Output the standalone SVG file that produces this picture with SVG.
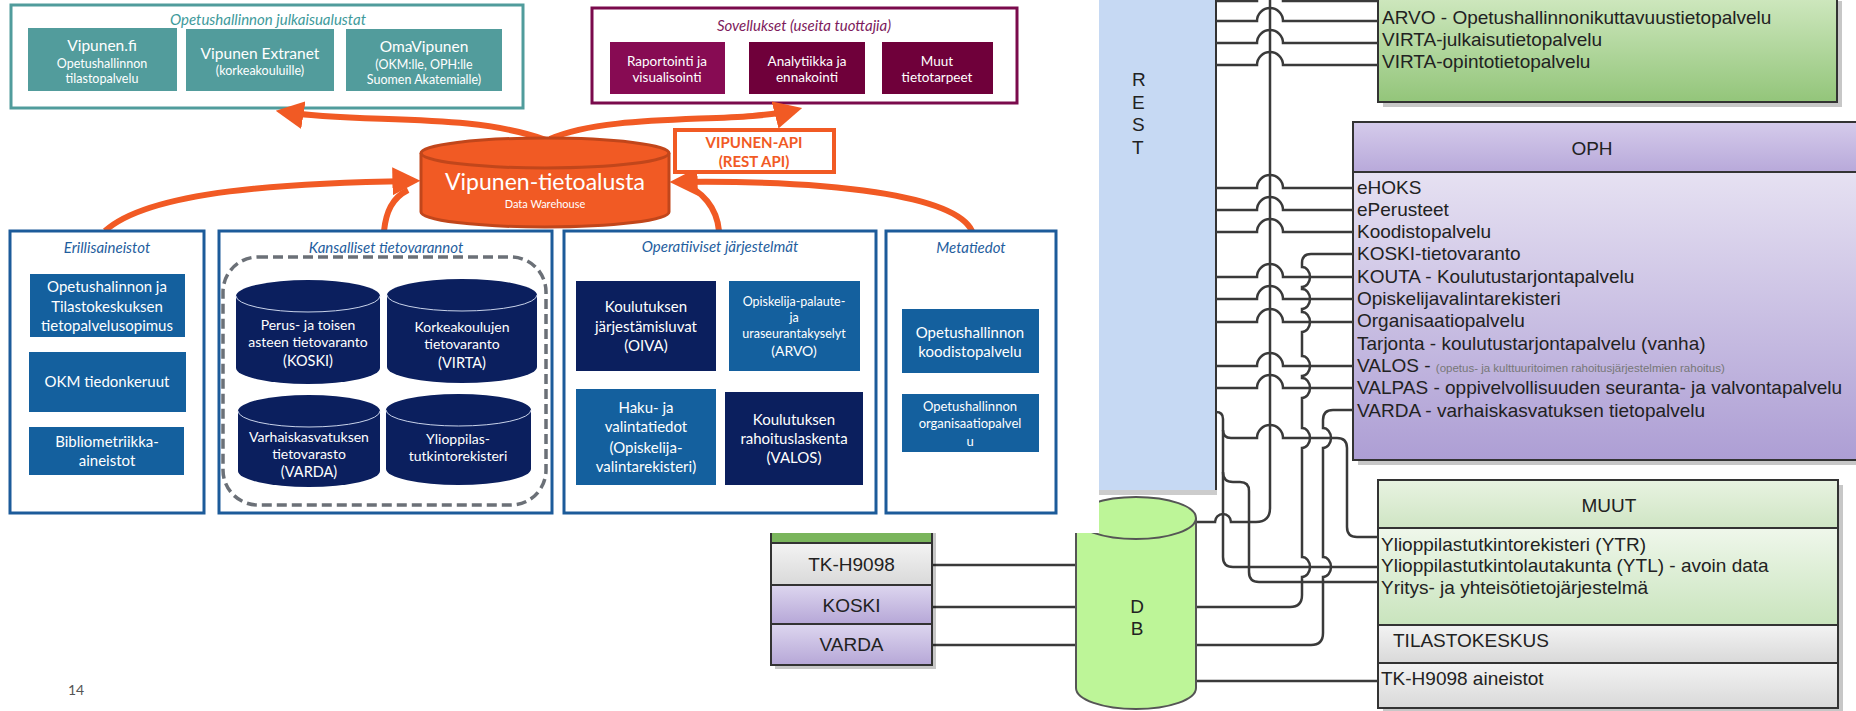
<svg xmlns="http://www.w3.org/2000/svg" width="1856" height="711" viewBox="0 0 1856 711">
<defs>
<style>
.s{font-family:Lato,"Open Sans",sans-serif;fill:#fff;text-anchor:middle}
.ti{font-family:Lato,"Open Sans",sans-serif;font-style:italic;font-size:15px;text-anchor:middle}
.t{font-family:"Liberation Sans",Arial,sans-serif;font-size:19px;fill:#222}
.ln{fill:none;stroke:#3a3a3a;stroke-width:2.5}
.arr{fill:none;stroke:#f15a24;stroke-width:6}
.bx{fill:#fff;stroke:#1c5b9a;stroke-width:3}
.blue{fill:#14609e}
.navy{fill:#0b1f5e}
.shadow{fill:#000;opacity:.22}
.edge{stroke:#333;stroke-width:2}
</style>
<linearGradient id="gGreen" x1="0" y1="0" x2="0" y2="1"><stop offset="0" stop-color="#cfe8bf"/><stop offset="1" stop-color="#93c57a"/></linearGradient>
<linearGradient id="gOphHead" x1="0" y1="0" x2="0" y2="1"><stop offset="0" stop-color="#d5cbeb"/><stop offset="1" stop-color="#b8a9da"/></linearGradient>
<linearGradient id="gOphBody" x1="0" y1="0" x2="0" y2="1"><stop offset="0" stop-color="#e6e1f2"/><stop offset="1" stop-color="#ad9ed4"/></linearGradient>
<linearGradient id="gMuutHead" x1="0" y1="0" x2="0" y2="1"><stop offset="0" stop-color="#e8f3e1"/><stop offset="1" stop-color="#cfe5c4"/></linearGradient>
<linearGradient id="gMuutBody" x1="0" y1="0" x2="0" y2="1"><stop offset="0" stop-color="#eff7eb"/><stop offset="1" stop-color="#c9e4bd"/></linearGradient>
<linearGradient id="gGray" x1="0" y1="0" x2="0" y2="1"><stop offset="0" stop-color="#f3f3f3"/><stop offset="1" stop-color="#d9d9d9"/></linearGradient>
<linearGradient id="gLav" x1="0" y1="0" x2="0" y2="1"><stop offset="0" stop-color="#ddd6ef"/><stop offset="1" stop-color="#b6a7d7"/></linearGradient>
<marker id="ah" markerUnits="userSpaceOnUse" markerWidth="28" markerHeight="28" viewBox="0 0 10 10" refX="7" refY="5" orient="auto"><path d="M0,0 L10,5 L0,10 z" fill="#f15a24"/></marker>
</defs>
<rect x="0" y="0" width="1856" height="711" fill="#fff"/>

<!-- ===== right screenshot part ===== -->
<g id="rest">
<rect x="1099" y="-2" width="116" height="492" fill="#c6d9f3"/>
<rect x="1099" y="490" width="118" height="5" fill="#999" opacity=".5"/>
<line x1="1216" y1="0" x2="1216" y2="490" stroke="#333" stroke-width="2"/>
<text class="t" x="1132" y="86" font-size="18">R</text>
<text class="t" x="1132" y="108.5" font-size="18">E</text>
<text class="t" x="1132" y="131" font-size="18">S</text>
<text class="t" x="1132" y="153.5" font-size="18">T</text>
</g>

<g id="csc">
<rect x="1383" y="1" width="459" height="106" class="shadow"/>
<rect x="1378" y="-4" width="459" height="106" fill="url(#gGreen)" class="edge"/>
<text class="t" x="1382" y="23.5">ARVO - Opetushallinnonikuttavuustietopalvelu</text>
<text class="t" x="1382" y="45.5">VIRTA-julkaisutietopalvelu</text>
<text class="t" x="1382" y="68">VIRTA-opintotietopalvelu</text>
</g>

<g id="oph">
<rect x="1358" y="127" width="520" height="338" class="shadow"/>
<rect x="1353" y="122" width="520" height="50" fill="url(#gOphHead)" class="edge"/>
<rect x="1353" y="172" width="520" height="288" fill="url(#gOphBody)" class="edge"/>
<text class="t" x="1592" y="155" text-anchor="middle">OPH</text>
<text class="t" x="1357" y="193.5">eHOKS</text>
<text class="t" x="1357" y="215.8">ePerusteet</text>
<text class="t" x="1357" y="238.1">Koodistopalvelu</text>
<text class="t" x="1357" y="260.4">KOSKI-tietovaranto</text>
<text class="t" x="1357" y="282.7">KOUTA - Koulutustarjontapalvelu</text>
<text class="t" x="1357" y="305">Opiskelijavalintarekisteri</text>
<text class="t" x="1357" y="327.3">Organisaatiopalvelu</text>
<text class="t" x="1357" y="349.6">Tarjonta - koulutustarjontapalvelu (vanha)</text>
<text class="t" x="1357" y="371.9">VALOS - <tspan font-size="11.5" fill="#777">(opetus- ja kulttuuritoimen rahoitusjärjestelmien rahoitus)</tspan></text>
<text class="t" x="1357" y="394.2">VALPAS - oppivelvollisuuden seuranta- ja valvontapalvelu</text>
<text class="t" x="1357" y="416.5">VARDA - varhaiskasvatuksen tietopalvelu</text>
</g>

<g id="muut">
<rect x="1383" y="485" width="460" height="228" class="shadow"/>
<rect x="1378" y="480" width="460" height="48" fill="url(#gMuutHead)" class="edge"/>
<rect x="1378" y="528" width="460" height="97" fill="url(#gMuutBody)" class="edge"/>
<text class="t" x="1609" y="512" text-anchor="middle">MUUT</text>
<text class="t" x="1381" y="550.5">Ylioppilastutkintorekisteri (YTR)</text>
<text class="t" x="1381" y="571.5">Ylioppilastutkintolautakunta (YTL) - avoin data</text>
<text class="t" x="1381" y="593.5">Yritys- ja yhteisötietojärjestelmä</text>
</g>
<g id="tilastokeskus">
<rect x="1378" y="625" width="460" height="38" fill="url(#gGray)" class="edge"/>
<text class="t" x="1393" y="647">TILASTOKESKUS</text>
</g>
<g id="tk-aineistot">
<rect x="1378" y="663" width="460" height="45" fill="url(#gGray)" class="edge"/>
<text class="t" x="1381" y="685">TK-H9098 aineistot</text>
</g>

<g id="connectors-right">
<path class="ln" d="M1216,1 H1257 a13,13 0 0 1 26,0 H1378"/>
<path class="ln" d="M1216,21 H1257 a13,13 0 0 1 26,0 H1378"/>
<path class="ln" d="M1216,43 H1257 a13,13 0 0 1 26,0 H1378"/>
<path class="ln" d="M1216,65 H1257 a13,13 0 0 1 26,0 H1378"/>
<path class="ln" d="M1216,188 H1257 a13,13 0 0 1 26,0 H1353"/>
<path class="ln" d="M1216,210 H1257 a13,13 0 0 1 26,0 H1353"/>
<path class="ln" d="M1216,232 H1257 a13,13 0 0 1 26,0 H1353"/>
<path class="ln" d="M1216,277 H1257 a13,13 0 0 1 26,0 H1353"/>
<path class="ln" d="M1216,299 H1257 a13,13 0 0 1 26,0 H1353"/>
<path class="ln" d="M1216,322 H1257 a13,13 0 0 1 26,0 H1353"/>
<path class="ln" d="M1216,366 H1257 a13,13 0 0 1 26,0 H1353"/>
<path class="ln" d="M1216,388 H1257 a13,13 0 0 1 26,0 H1353"/>
<path class="ln" d="M1270,-2 V508 q0,14 -14,14 H1231 a8,8 0 0 0 -16,0 H1196"/>
<path class="ln" d="M1353,254 H1311 q-9,0 -9,9 V267 a8,10 0 0 1 0,20 V289 a8,10 0 0 1 0,20 V312 a8,10 0 0 1 0,20 V356 a8,10 0 0 1 0,20 V378 a8,10 0 0 1 0,20 V428 a8,10 0 0 1 0,20 V557 a8,10 0 0 1 0,20 V595 q0,12 -12,12 H1196"/>
<path class="ln" d="M1353,410 H1333 q-10,0 -10,10 V428 a8,10 0 0 1 0,20 V557 a8,10 0 0 1 0,20 V633 q0,12 -12,12 H1196"/>
<path class="ln" d="M1216,412 q7,0 7,7 V430 q0,8 8,8 H1257 a13,13 0 0 1 26,0 H1337 q10,0 10,10 V527 q0,10 10,10 H1378"/>
<path class="ln" d="M1223,430 V557 q0,10 10,10 H1378"/>
<path class="ln" d="M1223,472 q0,10 10,10 H1240 q9,0 9,9 V572 q0,10 10,10 H1378"/>
<path class="ln" d="M1196,681 H1378"/>
<path class="ln" d="M932,565 H1076"/>
<path class="ln" d="M932,607 H1076"/>
<path class="ln" d="M932,645 H1076"/>
</g>

<g id="db">
<path d="M1076,518 A60,21 0 0 1 1196,518 V688 A60,21 0 0 1 1076,688 Z" fill="#bdf598" stroke="#555" stroke-width="2"/>
<path d="M1076,518 A60,21 0 0 0 1196,518" fill="none" stroke="#555" stroke-width="2"/>
<text class="t" x="1137" y="613" font-size="18" text-anchor="middle">D</text>
<text class="t" x="1137" y="635" font-size="18" text-anchor="middle">B</text>
</g>

<g id="stack">
<rect x="775" y="530" width="161" height="139" class="shadow"/>
<rect x="771" y="525" width="161" height="18" fill="#7ab55c" class="edge"/>
<rect x="771" y="543" width="161" height="42" fill="url(#gGray)" class="edge"/>
<text class="t" x="851.5" y="571" text-anchor="middle" fill="#333">TK-H9098</text>
<rect x="771" y="585" width="161" height="39" fill="url(#gLav)" class="edge"/>
<text class="t" x="851.5" y="612" text-anchor="middle" fill="#333">KOSKI</text>
<rect x="771" y="624" width="161" height="41" fill="url(#gLav)" class="edge"/>
<text class="t" x="851.5" y="651" text-anchor="middle" fill="#333">VARDA</text>
</g>

<!-- ===== slide ===== -->
<rect x="0" y="0" width="1099" height="533" fill="#fff"/>

<g id="julkaisualustat">
<rect x="11" y="5" width="512" height="103" fill="#fff" stroke="#509c9c" stroke-width="3"/>
<text class="ti" x="268" y="25" font-size="14" fill="#3e9a9b">Opetushallinnon julkaisualustat</text>
<rect x="28" y="28" width="149" height="63" fill="#529c9c"/>
<text class="s" x="102" y="51" font-size="15.5">Vipunen.fi</text>
<text class="s" x="102" y="68" font-size="12.5">Opetushallinnon</text>
<text class="s" x="102" y="83" font-size="12.5">tilastopalvelu</text>
<rect x="186" y="29" width="148" height="62" fill="#529c9c"/>
<text class="s" x="260" y="59" font-size="15.5">Vipunen Extranet</text>
<text class="s" x="260" y="75" font-size="12.5">(korkeakouluille)</text>
<rect x="346" y="29" width="156" height="62" fill="#529c9c"/>
<text class="s" x="424" y="52" font-size="15.5">OmaVipunen</text>
<text class="s" x="424" y="69" font-size="12.5">(OKM:lle, OPH:lle</text>
<text class="s" x="424" y="84" font-size="12.5">Suomen Akatemialle)</text>
</g>

<g id="sovellukset">
<rect x="592" y="8" width="425" height="95" fill="#fff" stroke="#7a0a4c" stroke-width="3"/>
<text class="ti" x="804" y="31" font-size="14.5" fill="#7d1a5c">Sovellukset (useita tuottajia)</text>
<rect x="610" y="42" width="115" height="52" fill="#870b53"/>
<text class="s" x="667" y="66" font-size="13.5">Raportointi ja</text>
<text class="s" x="667" y="82" font-size="13.5">visualisointi</text>
<rect x="749" y="42" width="116" height="52" fill="#6f003a"/>
<text class="s" x="807" y="66" font-size="13.5">Analytiikka ja</text>
<text class="s" x="807" y="82" font-size="13.5">ennakointi</text>
<rect x="882" y="42" width="111" height="52" fill="#6f003a"/>
<text class="s" x="937" y="66" font-size="13.5">Muut</text>
<text class="s" x="937" y="82" font-size="13.5">tietotarpeet</text>
</g>

<g id="connectors-left">
<path class="arr" d="M546,140 C470,112 360,124 284,112" marker-end="url(#ah)"/>
<path class="arr" d="M550,139 C610,112 740,124 794,110" marker-end="url(#ah)"/>
<path class="arr" d="M105,231 C150,190 290,183 412,181" marker-end="url(#ah)"/>
<path class="arr" d="M384,231 C386,212 392,198 408,190"/>
<path class="arr" d="M719,231 C717,208 702,190 682,184"/>
<path class="arr" d="M972,231 C955,195 830,180 678,182" marker-end="url(#ah)"/>
</g>

<g id="vipunen-api">
<rect x="675" y="130" width="159" height="42" fill="#fff" stroke="#f15a24" stroke-width="4"/>
<text class="s" x="754" y="148" font-size="15" font-weight="bold" style="fill:#f15a24">VIPUNEN-API</text>
<text class="s" x="754" y="167" font-size="15" font-weight="bold" style="fill:#f15a24">(REST API)</text>
</g>

<g id="tietoalusta">
<path d="M421,153 A124,15 0 0 1 669,153 V212 A124,15 0 0 1 421,212 Z" fill="#f15a24" stroke="#c1461b" stroke-width="3"/>
<path d="M421,153 A124,15 0 0 0 669,153" fill="none" stroke="#c1461b" stroke-width="3"/>
<text class="s" x="545" y="190" font-size="23">Vipunen-tietoalusta</text>
<text class="s" x="545" y="208" font-size="11">Data Warehouse</text>
</g>

<g id="erillisaineistot">
<rect x="10" y="231" width="194" height="282" class="bx"/>
<text class="ti" x="107" y="253" fill="#1f5e9e">Erillisaineistot</text>
<rect x="30" y="274" width="155" height="63" class="blue"/>
<text class="s" x="107" y="292" font-size="15">Opetushalinnon ja</text>
<text class="s" x="107" y="312" font-size="15">Tilastokeskuksen</text>
<text class="s" x="107" y="331" font-size="15">tietopalvelusopimus</text>
<rect x="29" y="352" width="157" height="60" class="blue"/>
<text class="s" x="107" y="387" font-size="15">OKM tiedonkeruut</text>
<rect x="29" y="427" width="155" height="48" class="blue"/>
<text class="s" x="107" y="447" font-size="15">Bibliometriikka-</text>
<text class="s" x="107" y="466" font-size="15">aineistot</text>
</g>

<g id="kansalliset">
<rect x="219" y="231" width="333" height="282" class="bx"/>
<text class="ti" x="386" y="253" fill="#1f5e9e">Kansalliset tietovarannot</text>
<rect x="223" y="257" width="323" height="248" rx="35" fill="none" stroke="#6b7077" stroke-width="3.5" stroke-dasharray="10 5"/>
<g id="koski">
<path d="M236,296 A72,16 0 0 1 380,296 V368 A72,16 0 0 1 236,368 Z" class="navy"/>
<path d="M236,296 A72,16 0 0 0 380,296" fill="none" stroke="#c9d3ea" stroke-width="1"/>
<text class="s" x="308" y="330" font-size="14">Perus- ja toisen</text>
<text class="s" x="308" y="347" font-size="14">asteen tietovaranto</text>
<text class="s" x="308" y="366" font-size="14.5">(KOSKI)</text>
</g>
<g id="virta">
<path d="M387,295 A75,16 0 0 1 537,295 V367 A75,16 0 0 1 387,367 Z" class="navy"/>
<path d="M387,295 A75,16 0 0 0 537,295" fill="none" stroke="#c9d3ea" stroke-width="1"/>
<text class="s" x="462" y="332" font-size="14">Korkeakoulujen</text>
<text class="s" x="462" y="349" font-size="14">tietovaranto</text>
<text class="s" x="462" y="368" font-size="14.5">(VIRTA)</text>
</g>
<g id="varda">
<path d="M238,411 A71,16 0 0 1 380,411 V471 A71,16 0 0 1 238,471 Z" class="navy"/>
<path d="M238,411 A71,16 0 0 0 380,411" fill="none" stroke="#c9d3ea" stroke-width="1"/>
<text class="s" x="309" y="442" font-size="14">Varhaiskasvatuksen</text>
<text class="s" x="309" y="459" font-size="14">tietovarasto</text>
<text class="s" x="309" y="477" font-size="14.5">(VARDA)</text>
</g>
<g id="ytr">
<path d="M386,410 A72.5,16 0 0 1 531,410 V469 A72.5,16 0 0 1 386,469 Z" class="navy"/>
<path d="M386,410 A72.5,16 0 0 0 531,410" fill="none" stroke="#c9d3ea" stroke-width="1"/>
<text class="s" x="458" y="444" font-size="14">Ylioppilas-</text>
<text class="s" x="458" y="461" font-size="14">tutkintorekisteri</text>
</g>
</g>

<g id="operatiiviset">
<rect x="564" y="231" width="312" height="282" class="bx"/>
<text class="ti" x="720" y="252" fill="#1f5e9e">Operatiiviset järjestelmät</text>
<rect x="576" y="281" width="140" height="90" class="navy"/>
<text class="s" x="646" y="312" font-size="15">Koulutuksen</text>
<text class="s" x="646" y="332" font-size="15">järjestämisluvat</text>
<text class="s" x="646" y="351" font-size="15">(OIVA)</text>
<rect x="729" y="281" width="131" height="90" class="blue"/>
<text class="s" x="794" y="306" font-size="12.5">Opiskelija-palaute-</text>
<text class="s" x="794" y="322" font-size="12.5">ja</text>
<text class="s" x="794" y="338" font-size="12.5">uraseurantakyselyt</text>
<text class="s" x="794" y="356" font-size="14">(ARVO)</text>
<rect x="576" y="389" width="140" height="96" class="blue"/>
<text class="s" x="646" y="413" font-size="15">Haku- ja</text>
<text class="s" x="646" y="432" font-size="15">valintatiedot</text>
<text class="s" x="646" y="453" font-size="15">(Opiskelija-</text>
<text class="s" x="646" y="472" font-size="15">valintarekisteri)</text>
<rect x="725" y="392" width="138" height="93" class="navy"/>
<text class="s" x="794" y="425" font-size="15">Koulutuksen</text>
<text class="s" x="794" y="444" font-size="15">rahoituslaskenta</text>
<text class="s" x="794" y="463" font-size="15">(VALOS)</text>
</g>

<g id="metatiedot">
<rect x="886" y="231" width="170" height="282" class="bx"/>
<text class="ti" x="971" y="253" fill="#1f5e9e">Metatiedot</text>
<rect x="902" y="309" width="137" height="64" class="blue"/>
<text class="s" x="970" y="338" font-size="15">Opetushallinnon</text>
<text class="s" x="970" y="357" font-size="15">koodistopalvelu</text>
<rect x="902" y="394" width="137" height="58" class="blue"/>
<text class="s" x="970" y="411" font-size="13">Opetushallinnon</text>
<text class="s" x="970" y="428" font-size="13">organisaatiopalvel</text>
<text class="s" x="970" y="446" font-size="13">u</text>
</g>

<text x="76" y="695" font-family="Lato,'Open Sans',sans-serif" font-size="14" fill="#555" text-anchor="middle">14</text>
</svg>
